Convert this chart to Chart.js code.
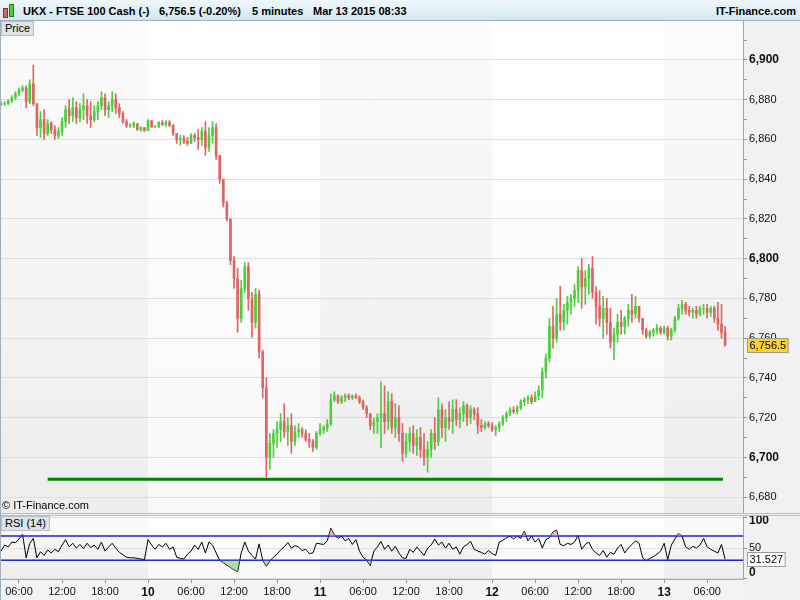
<!DOCTYPE html>
<html>
<head>
<meta charset="utf-8">
<script src="https://cdn.jsdelivr.net/npm/chart.js@4.4.1/dist/chart.umd.min.js"></script>
<style>
  body { margin: 0; background: #fff; font-family: "Liberation Sans", Arial, sans-serif; }
  #wrap { position: relative; width: 800px; height: 600px; overflow: hidden; background: #fff; }
  #header { position: absolute; left: 0; top: 0; width: 800px; height: 21px; box-sizing: border-box;
    background: linear-gradient(#eef8fc, #d3e7f0); border-bottom: 1px solid #9fb0bc;
    font-weight: bold; font-size: 11px; color: #000; }
  #header span { position: absolute; top: 1px; line-height: 20px; white-space: nowrap; }
  .tag { position: absolute; font-size: 11px; line-height: 13px; padding: 0 3px; color: #000;
    background: #dde4e9; border: 1px solid #b3bfc8; }
  .candle { position: absolute; width: 3px; border: 1px solid #555; }
  #priceCanvas { position: absolute; left: 0; top: 21px; }
  #rsiCanvas { position: absolute; left: 0; top: 516px; }
  #sep { position: absolute; left: 0; top: 513px; width: 800px; height: 3px; box-sizing: border-box;
    background: #eceef0; border-top: 1px solid #b7c0c8; border-bottom: 1px solid #b7c0c8; }
  #leftEdge { position: absolute; left: 0; top: 21px; width: 1px; height: 579px; background: #9fb0bc; }
  #copy { position: absolute; left: 2px; top: 499px; font-size: 11px; color: #000; }
</style>
</head>
<body>
<div id="wrap">
  <div id="header">
    <div class="candle" style="left:3px;top:8px;height:8px;background:#e06464;border-color:#8a3030"></div>
    <div class="candle" style="left:9px;top:4px;height:11px;background:#4ccf3c;border-color:#2c7a22"></div>
    <span style="left:23px">UKX - FTSE 100 Cash (-)</span>
    <span style="left:159px">6,756.5 (-0.20%)</span>
    <span style="left:252px">5 minutes</span>
    <span style="left:313px">Mar 13 2015 08:33</span>
    <span style="right:4px">IT-Finance.com</span>
  </div>
  <canvas id="priceCanvas" width="800" height="492"></canvas>
  <div id="sep"></div>
  <canvas id="rsiCanvas" width="800" height="84"></canvas>
  <div id="leftEdge"></div>
  <div class="tag" style="left:1px;top:21px">Price</div>
  <div id="copy">© IT-Finance.com</div>
  <div class="tag" style="left:1px;top:516px">RSI (14)</div>
</div>
<script>
// 30-minute candles; hours counted from Mar 9 00:00
const firstBarHour = 3.5;
const barHours = 0.5;
const firstOpen = 6877.5;

const highs = [
  6879, 6879, 6880, 6882, 6884, 6886, 6887, 6887, 6890, 6897.5,
  6878, 6874, 6875, 6870, 6869, 6867, 6866, 6871, 6877, 6880,
  6881, 6879, 6878, 6883, 6880, 6879, 6877, 6879, 6884, 6883,
  6879, 6884, 6883, 6878, 6874, 6870, 6868, 6869, 6867.5, 6866.5,
  6866, 6870, 6869.5, 6867, 6869, 6869.5, 6869.5, 6869.5, 6867.5, 6863,
  6862, 6862, 6861, 6863, 6863, 6865, 6866, 6869, 6866, 6869,
  6868, 6852, 6840, 6829, 6820, 6801, 6795, 6789, 6798, 6798,
  6783, 6785, 6784, 6754, 6740, 6712, 6714, 6718, 6722, 6727,
  6720, 6722, 6716, 6717, 6715, 6714, 6712, 6709, 6713, 6717,
  6716, 6719, 6732, 6733, 6731.5, 6731, 6732, 6732, 6731.5, 6732,
  6731, 6729, 6726, 6722, 6720, 6722, 6738, 6736, 6733, 6732,
  6727, 6726, 6717, 6712, 6715, 6716, 6714, 6715, 6712, 6708,
  6714, 6720, 6730, 6727, 6724, 6728, 6729, 6729, 6725, 6728,
  6727, 6726, 6725, 6725, 6719, 6718, 6718, 6717.5, 6716, 6718,
  6721, 6723, 6725, 6725.5, 6726, 6729, 6730, 6731, 6731.5, 6733,
  6736, 6745, 6752, 6770, 6776, 6780, 6786, 6777, 6781, 6782,
  6787, 6796, 6800, 6794, 6797, 6801, 6786, 6784, 6781, 6780,
  6775, 6765, 6772, 6774, 6771, 6777, 6782, 6781, 6776, 6770,
  6765, 6764, 6765, 6767, 6766, 6766, 6766, 6765, 6771, 6777,
  6779, 6778, 6776, 6775, 6776, 6776, 6777, 6777, 6776, 6776,
  6778, 6777, 6766
];

const lows = [
  6877, 6877, 6877.5, 6878.5, 6880, 6882, 6884, 6876, 6878, 6877,
  6862, 6861, 6860, 6862, 6863, 6860, 6860.5, 6862, 6866, 6868,
  6869, 6868, 6869, 6870, 6868, 6866, 6869, 6870, 6875, 6872,
  6871, 6874, 6873, 6871, 6868, 6866, 6866, 6866, 6864.5, 6864,
  6864, 6864.5, 6866, 6866, 6866, 6867, 6866.5, 6866.5, 6862, 6858,
  6857, 6858, 6857, 6858, 6859, 6855, 6857, 6852, 6854, 6858,
  6850, 6838, 6826, 6819, 6797, 6785, 6763, 6768, 6783, 6774,
  6760.5, 6765, 6750, 6730, 6690, 6694, 6700, 6705, 6708, 6710,
  6706, 6702, 6706, 6710, 6710, 6708, 6705, 6703, 6704, 6711,
  6712, 6713, 6716, 6728, 6727, 6727, 6728, 6729, 6729, 6729.5,
  6727, 6724, 6720, 6714, 6712, 6712, 6705, 6712, 6714, 6712,
  6710, 6708, 6698, 6700, 6703, 6702, 6701, 6700, 6696, 6692.5,
  6700, 6704, 6706, 6710, 6708, 6714, 6712, 6716, 6715, 6718,
  6716, 6717, 6719, 6712, 6713, 6714, 6715, 6713, 6711, 6713,
  6716, 6718, 6721, 6722, 6722, 6724, 6726, 6727, 6727, 6728,
  6729, 6730, 6740, 6748, 6755, 6758, 6764, 6764, 6767, 6772,
  6776, 6778, 6775, 6777, 6782, 6780, 6767, 6766, 6760, 6762,
  6755, 6749, 6758, 6762, 6762, 6766, 6768, 6770, 6768, 6762,
  6760, 6760, 6761, 6762, 6762, 6762, 6759, 6759, 6763, 6769,
  6772, 6772, 6771, 6770, 6770, 6771, 6772, 6770, 6771, 6768,
  6764, 6760, 6756
];

const closes = [
  6878, 6878, 6879.5, 6881, 6883, 6885, 6886, 6879, 6888, 6878,
  6866, 6870, 6863, 6868, 6865, 6862, 6864, 6869, 6875, 6872,
  6876, 6871, 6875, 6877, 6872, 6870, 6874, 6877, 6881, 6875,
  6877, 6880, 6876, 6873, 6869, 6867, 6867, 6868, 6865, 6866,
  6864.5, 6869.5, 6866.5, 6866.5, 6868.5, 6867.5, 6868.5, 6867, 6863, 6860,
  6860.5, 6859, 6858, 6862, 6861, 6860, 6864, 6856, 6862, 6866,
  6852, 6840, 6828, 6820, 6799, 6790, 6770, 6785, 6796, 6780,
  6768, 6782, 6753, 6735, 6700, 6707, 6712, 6714, 6718, 6713,
  6716, 6708, 6713, 6714, 6712, 6709, 6708, 6705, 6712, 6714,
  6715, 6717, 6729, 6731, 6728, 6730, 6731, 6730, 6731, 6730,
  6728, 6725, 6722, 6716, 6718, 6720, 6722, 6718, 6728, 6715,
  6720, 6712, 6702, 6708, 6712, 6706, 6710, 6704, 6700, 6704,
  6712, 6708, 6724, 6715, 6720, 6718, 6724, 6719, 6722, 6726,
  6720, 6724, 6722, 6716, 6715, 6717, 6716, 6714, 6715, 6717,
  6720, 6722, 6724, 6723, 6725, 6728, 6729, 6730, 6728, 6731,
  6734, 6743, 6750, 6766, 6760, 6772, 6768, 6774, 6778, 6780,
  6784, 6794, 6786, 6790, 6795, 6783, 6776, 6770, 6775, 6768,
  6758, 6762, 6768, 6766, 6770, 6774, 6772, 6776, 6770, 6764,
  6761, 6763, 6764, 6765, 6763, 6765, 6761, 6764, 6770, 6775,
  6777, 6774, 6773, 6774, 6772, 6775, 6775, 6773, 6775, 6770,
  6767, 6763, 6756.5
];

// RSI (14), one reading per candle
const rsi = [
  45, 55, 52, 60, 59, 65, 73, 34, 58, 66,
  34, 44, 38, 47, 42, 48, 44, 55, 64, 52,
  58, 50, 56, 49, 58, 51, 55, 48, 60, 45,
  52, 58, 50, 43, 39, 35, 34, 34, 33, 32,
  31, 64, 55, 48, 56, 52, 58, 48, 52, 35,
  33, 32, 40, 45, 55, 48, 60, 42, 60, 55,
  42, 30, 26, 22, 18, 14, 11, 42, 60, 45,
  38, 32, 57, 30, 20, 29, 35, 40, 47, 52,
  59, 50, 54, 52, 46, 48, 41, 42, 58, 57,
  56, 62, 83, 72, 66, 70, 62, 66, 56, 64,
  45, 35, 30, 21, 45, 52, 61, 48, 55, 45,
  53, 42, 34, 33, 48, 43, 52, 45, 38, 50,
  55, 65, 55, 60, 50, 58, 48, 52, 40, 52,
  56, 61, 48, 45, 43, 40, 46, 41, 38, 60,
  63, 67, 70, 65, 70, 66, 78, 62, 70, 60,
  66, 50, 64, 67, 77, 80, 56, 54, 58, 56,
  60, 71, 48, 56, 60, 48, 42, 38, 46, 35,
  43, 40, 50, 56, 42, 50, 56, 62, 58, 34,
  29, 33, 36, 40, 45, 58, 31, 55, 65, 74,
  70, 52, 48, 53, 50, 55, 66, 52, 48, 45,
  42, 56, 31.527
];

const dayStarts = [0, 24, 48, 72, 96];
const dayLabels = ['9', '10', '11', '12', '13'];
const timeTicks = [6, 12, 18, 24, 30, 36, 42, 48, 54, 60, 66, 72, 78, 84, 90, 96, 102];
const priceTicks = [6680, 6690, 6700, 6710, 6720, 6730, 6740, 6750, 6760, 6770, 6780,
  6790, 6800, 6810, 6820, 6830, 6840, 6850, 6860, 6870, 6880, 6890, 6900, 6910];
const rsiTicks = [0, 50, 100];
const rsiBands = [30, 70];

const supportLevel = 6689;
const supportFrom = 10;
const supportTo = 104.2;

const xMin = 3.35, xMax = 107.0;

Chart.defaults.font.family = '"Liberation Sans", Arial, sans-serif';
Chart.defaults.font.size = 11;
Chart.defaults.color = '#111';
Chart.defaults.animation = false;

const upColor = '#4ccf3c';
const downColor = '#e06464';

const times = closes.map((c, i) => firstBarHour + i * barHours);
const opens = closes.map((c, i) => i === 0 ? firstOpen : closes[i - 1]);
const barColors = closes.map((c, i) => c >= opens[i] ? upColor : downColor);

const panelBackground = {
  id: 'panelBackground',
  beforeDraw(chart) {
    const { ctx, chartArea: a } = chart;
    const x = chart.scales.x;
    ctx.save();
    ctx.fillStyle = '#eff1f3';
    ctx.fillRect(a.right, 0, chart.width - a.right, chart.height);
    if (a.bottom < chart.height) {
      ctx.fillStyle = '#f3f4f5';
      ctx.fillRect(0, a.bottom, a.right, chart.height - a.bottom);
    }
    const g = ctx.createLinearGradient(0, a.top, 0, a.bottom);
    g.addColorStop(0, '#ffffff');
    g.addColorStop(1, '#f8f8f8');
    ctx.fillStyle = g;
    ctx.fillRect(a.left, a.top, a.width, a.height);
    // alternate days get a faint grey band, darker towards the bottom
    const band = ctx.createLinearGradient(0, a.top, 0, a.bottom);
    band.addColorStop(0, 'rgba(0,0,0,0.015)');
    band.addColorStop(1, 'rgba(0,0,0,0.045)');
    ctx.fillStyle = band;
    dayStarts.forEach((d, i) => {
      if (i % 2) return;
      const x0 = Math.max(x.getPixelForValue(d), a.left);
      const x1 = Math.min(x.getPixelForValue(d + 24), a.right);
      if (x1 > x0) ctx.fillRect(x0, a.top, x1 - x0, a.height);
    });
    ctx.restore();
  }
};

const valueTag = {
  id: 'valueTag',
  afterDraw(chart, args, opts) {
    const { ctx, chartArea: a } = chart;
    const y = chart.scales.y.getPixelForValue(opts.value);
    ctx.save();
    ctx.font = '11px "Liberation Sans", Arial, sans-serif';
    const w = ctx.measureText(opts.text).width + 4;
    const x0 = a.right + 4.5;
    ctx.fillStyle = opts.fill;
    ctx.strokeStyle = '#9a9a9a';
    ctx.lineWidth = 1;
    ctx.fillRect(x0, Math.round(y - 7) + 0.5, w, 14);
    ctx.strokeRect(x0, Math.round(y - 7) + 0.5, w, 14);
    ctx.fillStyle = '#000';
    ctx.textBaseline = 'middle';
    ctx.fillText(opts.text, x0 + 2, Math.round(y) + 0.5);
    ctx.restore();
  }
};

function fixAxis(size) {
  return function(scale) {
    if (scale.isHorizontal()) {
      scale.height = size;
      scale.paddingLeft = 0;
      scale.paddingRight = 0;
    } else {
      scale.width = size;
      scale.paddingTop = 0;
      scale.paddingBottom = 0;
    }
  };
}

new Chart(document.getElementById('priceCanvas'), {
  type: 'bar',
  plugins: [panelBackground, valueTag],
  data: {
    datasets: [
      {
        data: times.map((t, i) => ({ x: t, y: [lows[i], highs[i]] })),
        backgroundColor: barColors,
        barThickness: 1,
        minBarLength: 1,
        grouped: false,
      },
      {
        data: times.map((t, i) => ({ x: t, y: [opens[i], closes[i]] })),
        backgroundColor: barColors,
        barThickness: 2,
        grouped: false,
      },
      {
        type: 'line',
        data: [{ x: supportFrom, y: supportLevel }, { x: supportTo, y: supportLevel }],
        borderColor: '#008000',
        borderWidth: 3,
        pointRadius: 0,
      }
    ]
  },
  options: {
    responsive: false,
    layout: { padding: 0 },
    plugins: {
      legend: { display: false },
      tooltip: { enabled: false },
      valueTag: { value: closes[closes.length - 1], text: '6,756.5', fill: '#ffd42a' },
    },
    scales: {
      x: {
        type: 'linear',
        display: false,
        offset: false,
        min: xMin,
        max: xMax,
      },
      y: {
        position: 'right',
        min: 6672,
        max: 6919.6,
        afterBuildTicks: axis => { axis.ticks = priceTicks.map(v => ({ value: v })); },
        afterFit: fixAxis(57),
        border: { color: '#9aa6b0' },
        grid: {
          color: ctx => ctx.tick && ctx.tick.value % 20 === 0 ? '#dedede' : 'rgba(0,0,0,0)',
          tickColor: '#8a96a0',
          tickLength: 4,
        },
        ticks: {
          padding: 2,
          color: '#111',
          font: ctx => ctx.tick && ctx.tick.value % 100 === 0
            ? { size: 12, weight: 'bold' } : { size: 11 },
          callback: v => v % 20 === 0 ? v.toLocaleString('en-US') : '',
        }
      }
    }
  }
});

const rsiPoints = times.map((t, i) => ({ x: t, y: rsi[i] }));

new Chart(document.getElementById('rsiCanvas'), {
  type: 'line',
  plugins: [panelBackground, valueTag],
  data: {
    datasets: [
      {
        data: rsiPoints,
        borderColor: 'rgba(0,0,0,0)',
        borderWidth: 0,
        pointRadius: 0,
        fill: { target: { value: rsiBands[0] }, above: 'rgba(0,0,0,0)', below: 'rgba(120,190,110,0.55)' },
      },
      {
        data: rsiPoints,
        borderColor: 'rgba(0,0,0,0)',
        borderWidth: 0,
        pointRadius: 0,
        fill: { target: { value: rsiBands[1] }, above: 'rgba(205,140,140,0.6)', below: 'rgba(0,0,0,0)' },
      },
      {
        data: [{ x: xMin, y: rsiBands[1] }, { x: xMax, y: rsiBands[1] }],
        borderColor: '#1f1fd6',
        borderWidth: 1.5,
        pointRadius: 0,
      },
      {
        data: [{ x: xMin, y: rsiBands[0] }, { x: xMax, y: rsiBands[0] }],
        borderColor: '#1f1fd6',
        borderWidth: 1.5,
        pointRadius: 0,
      },
      {
        data: rsiPoints,
        borderColor: '#000',
        borderWidth: 1,
        pointRadius: 0,
        tension: 0,
      }
    ]
  },
  options: {
    responsive: false,
    layout: { padding: 0 },
    plugins: {
      legend: { display: false },
      tooltip: { enabled: false },
      valueTag: { value: rsi[rsi.length - 1], text: '31.527', fill: '#ffffff' },
    },
    scales: {
      x: {
        type: 'linear',
        min: xMin,
        max: xMax,
        afterBuildTicks: axis => { axis.ticks = timeTicks.map(v => ({ value: v })); },
        afterFit: fixAxis(21),
        border: { color: '#9aa6b0' },
        grid: { drawOnChartArea: false, tickColor: '#8a96a0', tickLength: 4 },
        ticks: {
          padding: 2,
          maxRotation: 0,
          autoSkip: false,
          color: '#111',
          font: ctx => ctx.tick && dayStarts.includes(ctx.tick.value)
            ? { size: 12, weight: 'bold' } : { size: 11 },
          callback: v => dayStarts.includes(v)
            ? dayLabels[dayStarts.indexOf(v)]
            : String(v % 24).padStart(2, '0') + ':00',
        }
      },
      y: {
        position: 'right',
        min: -1,
        max: 103,
        afterBuildTicks: axis => { axis.ticks = rsiTicks.map(v => ({ value: v })); },
        afterFit: fixAxis(57),
        border: { color: '#9aa6b0' },
        grid: { color: '#dedede', tickColor: '#8a96a0', tickLength: 4 },
        ticks: {
          padding: 2,
          color: '#111',
          // the end labels sit inside the panel, as in the original
          font: ctx => {
            const v = ctx.tick && ctx.tick.value;
            if (v === 100) return { size: 12, weight: 'bold', lineHeight: 0.55 };
            if (v === 0) return { size: 12, weight: 'bold', lineHeight: 0.9 };
            return { size: 11 };
          },
          callback: v => v === 100 ? ['', '100'] : v === 0 ? ['0', ''] : String(v),
        }
      }
    }
  }
});
</script>
</body>
</html>
